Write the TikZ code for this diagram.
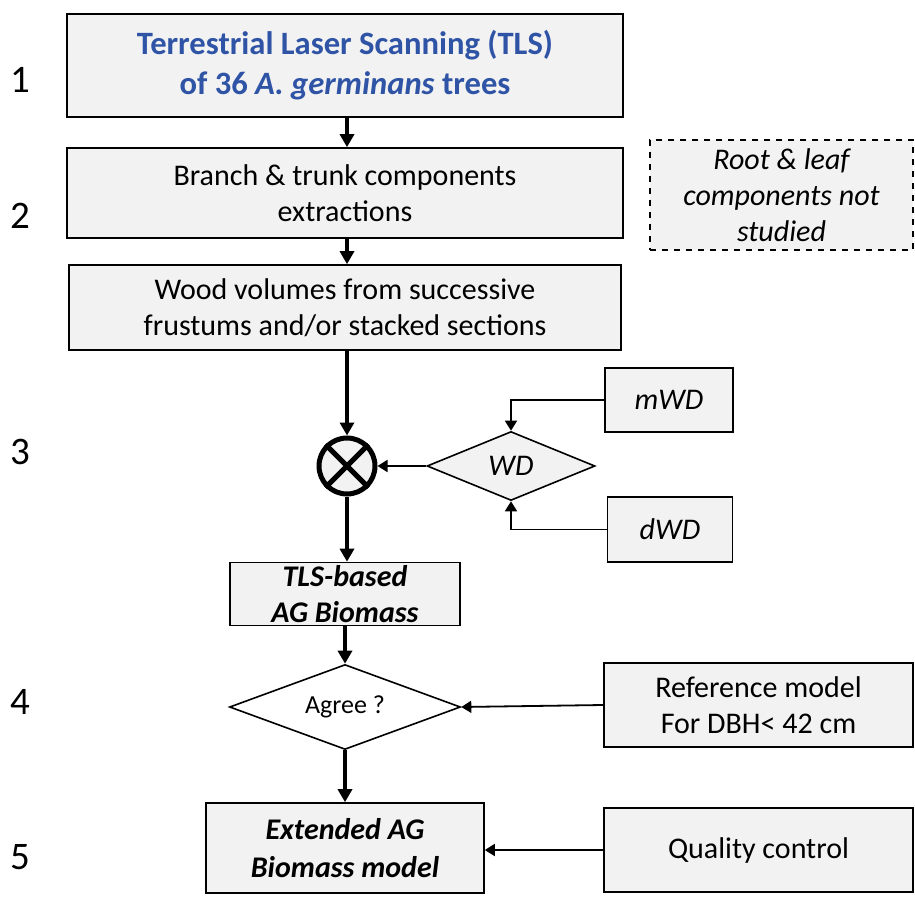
\documentclass[tikz,border=0pt]{standalone}
\usepackage{fontspec}
\setmainfont{Carlito}
\usetikzlibrary{shapes.geometric}
\usetikzlibrary{arrows.meta}
\definecolor{boxgray}{RGB}{242,242,242}
\definecolor{titleblue}{RGB}{47,84,166}
\tikzset{box/.style={draw=black, line width=0.8pt, fill=boxgray, align=center,
   inner sep=0pt, font=\fontsize{15}{18}\selectfont},
 dbox/.style={box, dashed},
 choice/.style={diamond, draw=black, line width=0.8pt, inner sep=0pt, align=center, aspect=2.5},
 mainflow/.style={line width=2pt, -{Triangle[length=6.5pt,width=7pt]}},
 sideflow/.style={line width=0.9pt, -{Triangle[length=5pt,width=6pt]}},
 steplabel/.style={font=\fontsize{19.5}{22}\selectfont},
 }

\begin{document}
\begin{tikzpicture}[x=0.5pt, y=-0.5pt]
        \useasboundingbox (0,0) rectangle (915,898);
        % step numbers
        \foreach \n/\y in {1/80, 2/216, 3/452, 4/702, 5/857} {
            \node[steplabel] (s\n) at (20,\y) {\n};
        }
        % main column
        \node[box, minimum width=278pt, minimum height=51.5pt, text=titleblue,
              font=\fontsize{16.3}{20}\selectfont\bfseries] (tls) at (345,65.5)
              {Terrestrial Laser Scanning (TLS)\\of 36 \textit{A. germinans} trees};
        \node[box, minimum width=278pt, minimum height=45pt] (branch) at (345,193)
              {Branch \& trunk components\\extractions};
        \node[box, minimum width=276pt, minimum height=42.5pt] (wood) at (345,307.5)
              {Wood volumes from successive\\frustums and/or stacked sections};
        \node[dbox, minimum width=131.5pt, minimum height=55pt, font=\fontsize{15}{18}\selectfont\itshape] (root) at (781.5,195)
              {Root \& leaf\\components not\\studied};
        \node[circle, draw=black, line width=2.5pt, fill=boxgray, minimum size=28pt, inner sep=0pt] (mult) at (347,466) {};
        \draw[line width=2.5pt] (mult.north west) -- (mult.south east);
        \draw[line width=2.5pt] (mult.north east) -- (mult.south west);
        \node[choice, fill=boxgray, minimum width=84pt, minimum height=34.5pt, font=\fontsize{15}{18}\selectfont\itshape] (wd) at (511,466) {WD};
        \node[box, minimum width=64pt, minimum height=32pt, font=\fontsize{15}{18}\selectfont\itshape] (mwd) at (669,400) {mWD};
        \node[box, minimum width=62.5pt, minimum height=32.5pt, font=\fontsize{15}{18}\selectfont\itshape] (dwd) at (670,529.5) {dWD};
        \node[box, minimum width=115pt, minimum height=31.5pt, font=\fontsize{15}{18}\selectfont\bfseries\itshape] (agb) at (345,594)
              {TLS-based\\AG Biomass};
        \node[choice, fill=white, minimum width=115.5pt, minimum height=42.5pt, font=\fontsize{13}{15}\selectfont] (agree) at (345,707) {Agree ?};
        \node[box, minimum width=154.5pt, minimum height=42pt] (refmodel) at (758.5,705)
              {Reference model\\For DBH< 42 cm};
        \node[box, minimum width=139pt, minimum height=45pt, font=\fontsize{15}{19}\selectfont\bfseries\itshape] (extended) at (345,848)
              {Extended AG\\Biomass model};
        \node[box, minimum width=154.5pt, minimum height=42pt] (quality) at (758.5,850) {Quality control};

        % connectors
        \draw[mainflow] (tls.south -| mult) -- (branch.north -| mult);
        \draw[mainflow] (branch.south -| mult) -- (wood.north -| mult);
        \draw[mainflow] (wood.south -| mult) -- (mult.north);
        \draw[sideflow] (wd.west) -- (mult.east);
        \draw[sideflow] (mwd.west) -| (wd.north);
        \draw[sideflow] (dwd.west) -| (wd.south);
        \draw[mainflow] (mult.south) -- (mult.south |- agb.north);
        \draw[mainflow] (agb.south) -- (agree.north);
        \draw[sideflow] (refmodel.west) -- (agree.east);
        \draw[mainflow] (agree.south) -- (extended.north);
        \draw[sideflow] (quality.west) -- (quality.west -| extended.east);
    \end{tikzpicture}
\end{document}
